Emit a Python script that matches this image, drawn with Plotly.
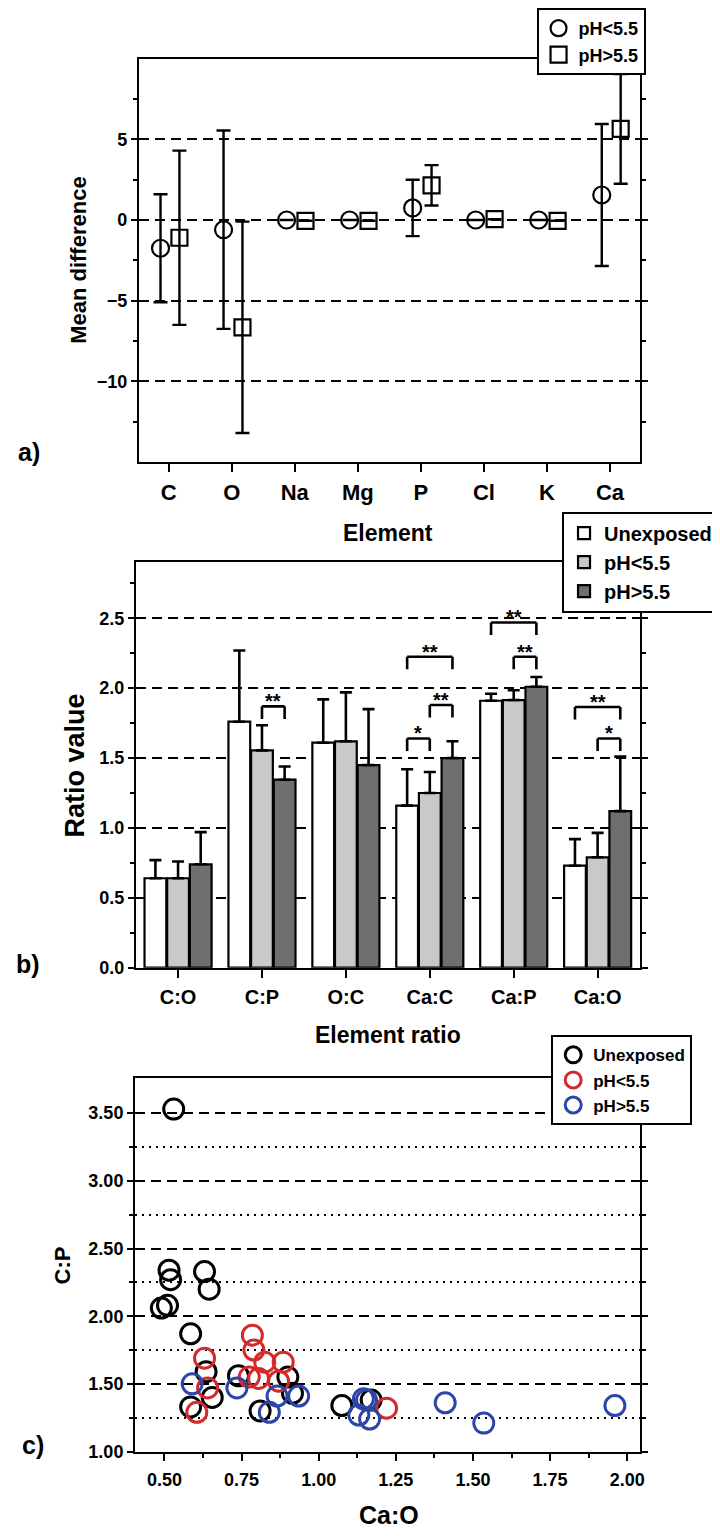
import plotly.graph_objects as go

FONT = "Liberation Sans, Arial, sans-serif"

# ---------------- Panel a data ----------------
elements = ["C", "O", "Na", "Mg", "P", "Cl", "K", "Ca"]
md_low = [-1.75, -0.6, 0.0, 0.0, 0.75, 0.0, 0.0, 1.55]
md_low_err = [3.35, 6.15, 0.0, 0.0, 1.75, 0.0, 0.0, 4.4]
md_high = [-1.1, -6.65, -0.05, -0.05, 2.15, 0.05, -0.05, 5.65]
md_high_err = [5.4, 6.55, 0.0, 0.0, 1.25, 0.0, 0.0, 3.4]

# ---------------- Panel b data ----------------
ratios = ["C:O", "C:P", "O:C", "Ca:C", "Ca:P", "Ca:O"]
unexposed = [0.64, 1.76, 1.61, 1.16, 1.91, 0.73]
unexposed_sd = [0.13, 0.51, 0.31, 0.26, 0.05, 0.19]
ph_low = [0.64, 1.555, 1.62, 1.25, 1.915, 0.79]
ph_low_sd = [0.12, 0.18, 0.35, 0.15, 0.07, 0.175]
ph_high = [0.74, 1.345, 1.45, 1.50, 2.01, 1.12]
ph_high_sd = [0.23, 0.095, 0.40, 0.12, 0.07, 0.39]
# significance brackets: (ratio index, from bar, to bar, bracket height, label)
brackets = [
    (1, 1, 2, 1.87, "**"),
    (3, 0, 1, 1.64, "*"),
    (3, 1, 2, 1.88, "**"),
    (3, 0, 2, 2.225, "**"),
    (4, 0, 2, 2.47, "**"),
    (4, 1, 2, 2.225, "**"),
    (5, 0, 2, 1.865, "**"),
    (5, 1, 2, 1.64, "*"),
]

# ---------------- Panel c data ----------------
unexp_cao = [0.53, 0.515, 0.52, 0.63, 0.645, 0.49, 0.51, 0.585, 0.635, 0.74,
             0.585, 0.655, 0.81, 0.90, 0.915, 1.075, 1.17]
unexp_cp = [3.53, 2.34, 2.27, 2.33, 2.20, 2.06, 2.08, 1.87, 1.59, 1.56,
            1.33, 1.40, 1.30, 1.55, 1.43, 1.34, 1.38]
low_cao = [0.785, 0.79, 0.825, 0.885, 0.775, 0.805, 0.87, 0.63, 0.64, 0.605, 1.22]
low_cp = [1.86, 1.75, 1.66, 1.66, 1.55, 1.54, 1.52, 1.69, 1.47, 1.29, 1.32]
high_cao = [0.59, 0.735, 0.84, 0.865, 0.935, 1.145, 1.155, 1.13, 1.165, 1.41, 1.535, 1.96]
high_cp = [1.50, 1.47, 1.29, 1.41, 1.41, 1.39, 1.38, 1.27, 1.24, 1.36, 1.21, 1.34]

W, H = 720, 1536
BARGAP = 0.19
SLOT = (1 - BARGAP) / 3

fig = go.Figure()

# ---- panel a traces ----
idx_a = list(range(len(elements)))
fig.add_trace(go.Scatter(
    x=[i - 0.13 for i in idx_a], y=md_low, mode="markers", name="pH<5.5",
    marker=dict(symbol="circle-open", size=17, color="black", line=dict(width=2.2)),
    error_y=dict(type="data", array=md_low_err, color="black", thickness=2.4, width=7),
    xaxis="x", yaxis="y", legend="legend"))
fig.add_trace(go.Scatter(
    x=[i + 0.17 for i in idx_a], y=md_high, mode="markers", name="pH>5.5",
    marker=dict(symbol="square-open", size=16, color="black", line=dict(width=2.2)),
    error_y=dict(type="data", array=md_high_err, color="black", thickness=2.4, width=7),
    xaxis="x", yaxis="y", legend="legend"))

# ---- panel b traces ----
idx_b = list(range(len(ratios)))
for name, vals, sd, col in [("Unexposed", unexposed, unexposed_sd, "white"),
                            ("pH<5.5", ph_low, ph_low_sd, "#c9c9c9"),
                            ("pH>5.5", ph_high, ph_high_sd, "#6f6f6f")]:
    fig.add_trace(go.Bar(
        x=idx_b, y=vals, name=name,
        marker=dict(color=col, line=dict(color="black", width=2.2)),
        error_y=dict(type="data", symmetric=False, array=sd, arrayminus=[0] * len(sd),
                     color="black", thickness=2.6, width=6),
        xaxis="x2", yaxis="y2", legend="legend2"))

# ---- panel c traces ----
for name, xs, ys, col in [("Unexposed", unexp_cao, unexp_cp, "black"),
                          ("pH<5.5", low_cao, low_cp, "#d62a2a"),
                          ("pH>5.5", high_cao, high_cp, "#2b46a6")]:
    fig.add_trace(go.Scatter(
        x=xs, y=ys, mode="markers", name=name,
        marker=dict(symbol="circle-open", size=20, color=col, line=dict(width=3)),
        xaxis="x3", yaxis="y3", legend="legend3"))

# brackets (shapes on panel b data coords)
shapes = []
annotations = []
LEG = 0.09
for ci, b0, b1, yt, lab in brackets:
    x0 = ci + (b0 - 1) * SLOT
    x1 = ci + (b1 - 1) * SLOT
    for (xa, ya, xb, yb) in [(x0, yt - LEG, x0, yt), (x0, yt, x1, yt), (x1, yt, x1, yt - LEG)]:
        shapes.append(dict(type="line", xref="x2", yref="y2", x0=xa, y0=ya, x1=xb, y1=yb,
                           line=dict(color="black", width=2.6)))
    annotations.append(dict(xref="x2", yref="y2", x=(x0 + x1) / 2, y=yt, text="<b>%s</b>" % lab,
                            showarrow=False, yanchor="bottom", yshift=-8,
                            font=dict(family=FONT, size=20, color="black")))


def px_ann(text, x, y, size, angle=0):
    annotations.append(dict(xref="paper", yref="paper", x=x / W, y=1 - y / H,
                            text="<b>%s</b>" % text, showarrow=False, textangle=angle,
                            xanchor="center", yanchor="middle",
                            font=dict(family=FONT, size=size, color="black")))


px_ann("Mean difference", 71, 254, 22, -90)
px_ann("Element", 383, 528, 23)
px_ann("a)", 21, 447, 25)
px_ann("Ratio value", 67, 763, 27, -90)
px_ann("Element ratio", 383, 1034, 23)
px_ann("b)", 20, 962, 25)
px_ann("C:P", 55, 1266, 22, -90)
px_ann("Ca:O", 384, 1517, 25)
px_ann("c)", 25, 1446, 25)


def axis_common(size):
    return dict(showline=True, linecolor="black", linewidth=2.2, ticks="outside",
                tickcolor="black", tickwidth=2.2,
                tickfont=dict(family=FONT, size=size, color="black", weight="bold"),
                zeroline=False, fixedrange=True)


dash_grid = dict(showgrid=True, gridcolor="black", gridwidth=2.2, griddash="10px,6px")

layout = dict(
    width=W, height=H, margin=dict(l=0, r=0, t=0, b=0),
    paper_bgcolor="white", plot_bgcolor="white",
    barmode="group", bargap=BARGAP, bargroupgap=0.04,
    shapes=shapes, annotations=annotations,
    font=dict(family=FONT, color="black"),
    # panel a
    xaxis=dict(**axis_common(22), domain=[132 / W, 636 / W], anchor="y",
               range=[-0.47, 7.47], tickvals=idx_a, ticktext=elements,
               ticklen=8, showgrid=False, mirror=True, ticklabelstandoff=1),
    yaxis=dict(**axis_common(18), domain=[1 - 457 / H, 1 - 51 / H], anchor="x",
               range=[-15, 10], tickvals=[-10, -5, 0, 5], ticklen=6, mirror="ticks",
               minor=dict(tickvals=[-12.5, -7.5, -2.5, 2.5, 7.5], ticks="outside",
                          ticklen=4, tickcolor="black", tickwidth=2, showgrid=False),
               **dash_grid),
    # panel b
    xaxis2=dict(**axis_common(20), domain=[129 / W, 636 / W], anchor="y2",
                range=[-0.5, 5.5], tickvals=idx_b, ticktext=ratios,
                ticklen=8, showgrid=False, mirror=True, ticklabelstandoff=2),
    yaxis2=dict(**axis_common(18), domain=[1 - 966 / H, 1 - 558 / H], anchor="x2",
                range=[0, 2.9], tickvals=[0, 0.5, 1.0, 1.5, 2.0, 2.5], tickformat=".1f",
                ticklen=6, mirror="ticks",
                minor=dict(tickvals=[0.25, 0.75, 1.25, 1.75, 2.25, 2.75], ticks="outside",
                           ticklen=4, tickcolor="black", tickwidth=2, showgrid=False),
                **dash_grid),
    # panel c
    xaxis3=dict(**axis_common(18), domain=[128 / W, 636 / W], anchor="y3",
                range=[0.405, 2.04], tick0=0.5, dtick=0.25, tickformat=".2f",
                ticklen=7, showgrid=False, mirror=True, ticklabelstandoff=4,
                minor=dict(tick0=0.5, dtick=0.125, ticks="outside", ticklen=4,
                           tickcolor="black", tickwidth=2, showgrid=False)),
    yaxis3=dict(**axis_common(18), domain=[1 - 1453 / H, 1 - 1077 / H], anchor="x3",
                range=[1.0, 3.76], tick0=1.0, dtick=0.5, tickformat=".2f",
                ticklen=6, mirror="ticks",
                minor=dict(tickvals=[1.25, 1.75, 2.25, 2.75, 3.25], ticks="outside",
                           ticklen=4, tickcolor="black", tickwidth=2, showgrid=True,
                           gridcolor="black", gridwidth=2, griddash="2px,5px"),
                **dash_grid),
    legend=dict(x=642 / W, y=1.0, xanchor="right", yanchor="top",
                bgcolor="white", bordercolor="black", borderwidth=2,
                font=dict(family=FONT, size=18, color="black", weight="bold"),
                itemwidth=30, tracegroupgap=0),
    legend2=dict(x=716 / W, y=1 - 507 / H, xanchor="right", yanchor="top",
                 bgcolor="white", bordercolor="black", borderwidth=2,
                 font=dict(family=FONT, size=20, color="black", weight="bold"),
                 itemwidth=30, tracegroupgap=0),
    legend3=dict(x=689 / W, y=1 - 1034 / H, xanchor="right", yanchor="top",
                 bgcolor="white", bordercolor="black", borderwidth=2,
                 font=dict(family=FONT, size=17, color="black", weight="bold"),
                 itemwidth=30, tracegroupgap=0),
    showlegend=True,
)
fig.update_layout(**layout)
fig.write_html("out.html")
